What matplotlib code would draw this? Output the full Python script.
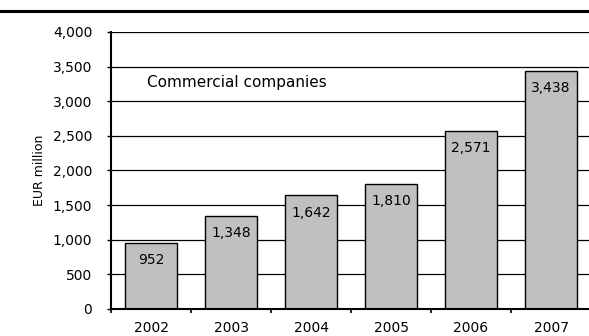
import matplotlib
matplotlib.use("Agg")
import matplotlib.pyplot as plt
from matplotlib.lines import Line2D
from matplotlib.ticker import FuncFormatter, FixedLocator

years = ["2002", "2003", "2004", "2005", "2006", "2007"]
values = [952, 1348, 1642, 1810, 2571, 3438]
series_label = "Commercial companies"
y_label = "EUR million"
y_ticks = [0, 500, 1000, 1500, 2000, 2500, 3000, 3500, 4000]

plt.rcParams["font.family"] = ["DejaVu Sans"]

fig = plt.figure(figsize=(5.89, 3.36), dpi=100)
ax = fig.add_axes([0.1885, 0.0804, 0.8150, 0.8244])

x = list(range(len(years)))
ax.bar(x, values, width=0.64, color="#C0C0C0", edgecolor="black",
       linewidth=1.0, zorder=3)

for xi, v in zip(x, values):
    ax.annotate(f"{v:,}", xy=(xi, v), xytext=(0, -12.5),
                textcoords="offset points", ha="center", va="center",
                fontsize=10, zorder=4)

ax.set_xlim(-0.5, len(years) - 0.5)
ax.set_ylim(0, 4000)
ax.yaxis.set_major_locator(FixedLocator(y_ticks))
ax.yaxis.set_major_formatter(FuncFormatter(lambda v, p: f"{int(v):,}"))
ax.grid(axis="y", color="black", linewidth=0.9, zorder=0)

# category labels centred, tick marks between categories
ax.set_xticks(x)
ax.set_xticklabels(years, fontsize=10)
ax.tick_params(axis="x", length=0, pad=9)
ax.set_xticks([i + 0.5 for i in range(len(years) - 1)] + [-0.5], minor=True)
ax.tick_params(axis="x", which="minor", length=3, width=1.2, direction="out")

ax.tick_params(axis="y", length=3, width=1.0, direction="out", labelsize=10,
               pad=10.5)
ax.set_ylabel(y_label, fontsize=9, labelpad=5)

for side in ("top", "right"):
    ax.spines[side].set_visible(False)
ax.spines["left"].set_linewidth(1.5)
ax.spines["bottom"].set_linewidth(1.5)
ax.spines["left"].set_zorder(5)
ax.spines["bottom"].set_zorder(5)

ax.text(-0.05, 3270, series_label, fontsize=11, ha="left", va="center",
        zorder=4)

fig.add_artist(Line2D([0, 1], [0.967, 0.967], transform=fig.transFigure,
                      color="black", linewidth=2.2))

fig.savefig("out.png", dpi=100)
